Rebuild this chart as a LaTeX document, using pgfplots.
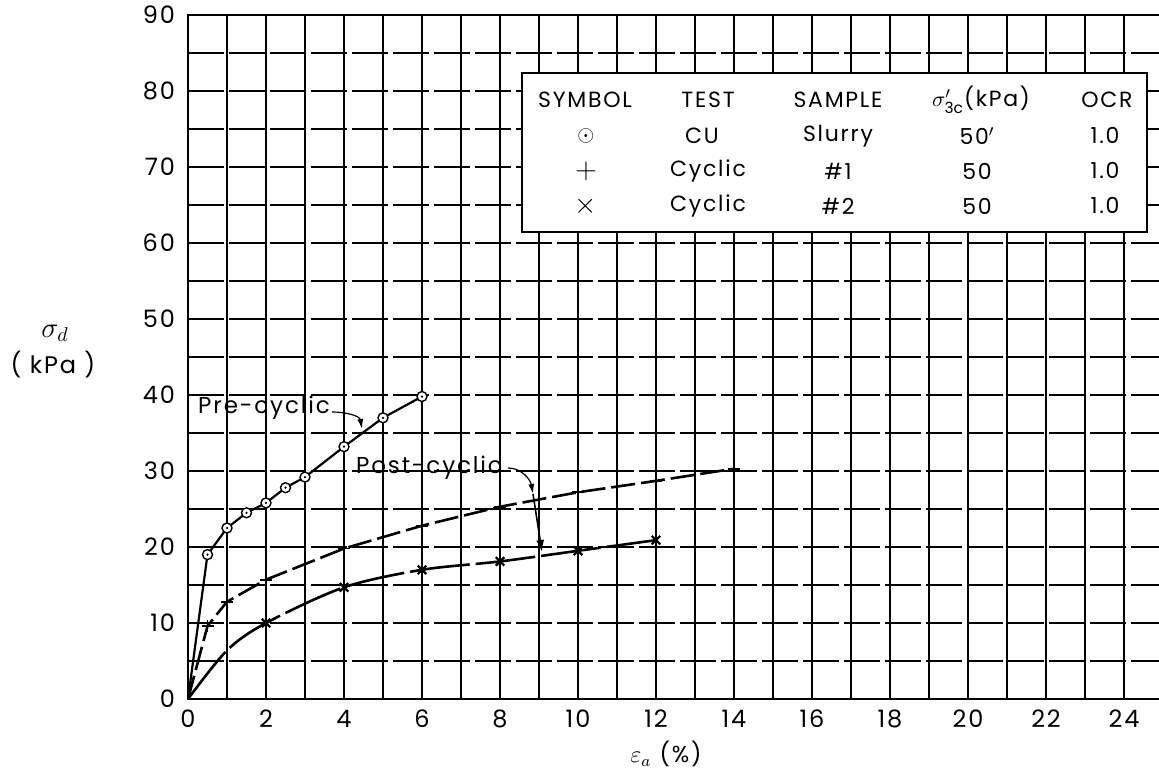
\documentclass[border=0pt]{standalone}
\usepackage{pgfplots}
\pgfplotsset{compat=1.18}
\usepackage{fontspec}
\setmainfont{Poppins}
\newfontfamily\spaced[LetterSpace=8]{Poppins}
\usetikzlibrary{arrows.meta}

\pgfdeclareplotmark{odot}{%
  \pgfsetfillcolor{white}%
  \pgfpathcircle{\pgfpointorigin}{\pgfplotmarksize}\pgfusepathqfillstroke
  \pgfsetfillcolor{black}%
  \pgfpathcircle{\pgfpointorigin}{0.25\pgfplotmarksize}\pgfusepathqfill}

\begin{document}
\begin{tikzpicture}
\useasboundingbox (0,0) rectangle (579.5pt,387pt);
\begin{axis}[
  scale only axis, width=487.5pt, height=342pt,
  at={(94pt,37.5pt)}, anchor=south west,
  xmin=0, xmax=25, ymin=0, ymax=90,
  xtick={0,1,...,25},
  xticklabels={0,,2,,4,,6,,8,,10,,12,,14,,16,,18,,20,,22,,24,},
  ytick={0,5,...,90},
  yticklabels={0,,10,,20,,30,,40,,50,,60,,70,,80,,90},
  major tick length=0pt,
  grid=major,
  x grid style={black, line width=0.6pt},
  y grid style={black, line width=0.6pt, dash pattern=on 18pt off 2.5pt},
  axis line style={line width=1pt},
  tick label style={font=\spaced\fontsize{12}{14}\selectfont},
  xticklabel style={yshift=-2pt},
  yticklabel style={xshift=-3pt},
]
\addplot[line width=1.1pt, mark=odot, mark size=2.5pt,
  mark options={solid, line width=0.7pt}, mark indices={2,...,10}]
  coordinates {(0,0)(0.5,19)(1,22.5)(1.5,24.5)(2,25.8)(2.5,27.8)(3,29.2)(4,33.2)(5,37)(6,39.8)};
\addplot[line width=1.3pt, dash pattern=on 12pt off 3pt, mark=+, mark size=3pt,
  mark options={solid, line width=0.9pt}, mark indices={2,...,10}]
  coordinates {(0,0)(0.5,9.6)(1,12.8)(2,15.7)(4,19.8)(6,22.8)(8,25.3)(10,27.2)(12,28.7)(14,30.3)};
\addplot[line width=1.3pt, smooth, tension=0.5, dash pattern=on 30pt off 3pt, mark=x, mark size=3pt,
  mark options={solid, line width=1.1pt}, mark indices={3,...,8}]
  coordinates {(0,0)(1,6.4)(2,10)(4,14.7)(6,17)(8,18.1)(10,19.5)(12,20.9)};
\end{axis}
% legend table
\draw[line width=0.9pt, fill=white] (261pt,271pt) rectangle (573.5pt,350.5pt);
\begin{scope}[every node/.style={font=\spaced\fontsize{11}{13}\selectfont, anchor=center, inner sep=0pt}]
\node at (292.5pt,337pt) {SYMBOL};
\node at (354pt,337pt) {TEST};
\node at (419pt,337pt) {SAMPLE};
\node at (490.5pt,337pt) {$\sigma'_{\mathrm{3c}}$(kPa)};
\node at (553.5pt,337pt) {OCR};
\node at (293pt,319pt) {$\odot$};
\node at (351pt,319pt) {CU};
\node at (419pt,319pt) {Slurry};
\node at (488.5pt,319pt) {50$'$};
\node at (552.5pt,319pt) {1.0};
\node at (293pt,301.5pt) {\Large$+$};
\node at (354pt,301.5pt) {Cyclic};
\node at (419pt,301.5pt) {\#1};
\node at (488.5pt,301.5pt) {50};
\node at (552.5pt,301.5pt) {1.0};
\node at (293pt,284pt) {\Large$\times$};
\node at (354pt,284pt) {Cyclic};
\node at (419pt,284pt) {\#2};
\node at (488.5pt,284pt) {50};
\node at (552.5pt,284pt) {1.0};
\end{scope}
% annotations
\node[font=\spaced\fontsize{11.5}{13}\selectfont, inner sep=0pt] at (132pt,183pt) {Pre-cyclic};
\draw[line width=0.6pt, -{Latex[length=5pt,width=3pt]}] (166pt,181pt) to[out=0,in=100] (181pt,172.5pt);
\node[font=\spaced\fontsize{11.5}{13}\selectfont, inner sep=0pt] at (214.5pt,153pt) {Post-cyclic};
\draw[line width=0.6pt, -{Latex[length=5pt,width=3pt]}] (254pt,153pt) to[out=0,in=100] (266.5pt,140pt);
\draw[line width=0.8pt, -{Latex[length=6pt,width=4pt]}] (266.5pt,140pt) -- (271pt,111pt);
% axis titles
\node[font=\fontsize{14}{16}\selectfont] at (27.5pt,220.5pt) {$\sigma_d$};
\node[font=\spaced\fontsize{12}{14}\selectfont] at (26.5pt,204.5pt) {( kPa )};
\node[font=\spaced\fontsize{11.5}{13}\selectfont, inner sep=1pt] at (333pt,10pt) {$\varepsilon_a$ (\%)};
\end{tikzpicture}
\end{document}
